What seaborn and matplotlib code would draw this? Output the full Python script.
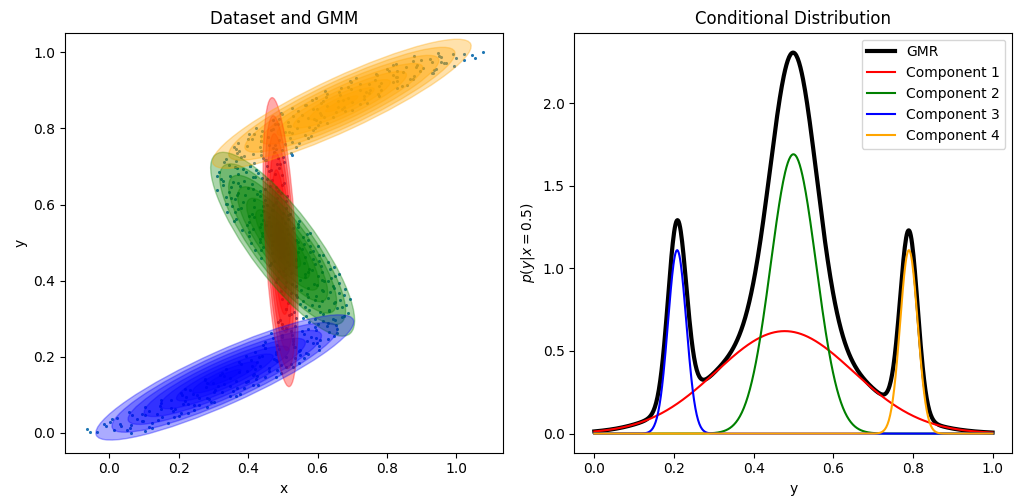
import numpy as np
import pandas as pd
import matplotlib
matplotlib.use("Agg")
import matplotlib.pyplot as plt
import seaborn as sns
from matplotlib.patches import Ellipse

# ---------------- data ----------------
# scatter samples (left panel), first batch
sample_y = [
    0.0000, 0.0025, 0.0050, 0.0075, 0.0100, 0.0125, 0.0150, 0.0175, 0.0200, 0.0225,
    0.0250, 0.0275, 0.0300, 0.0325, 0.0350, 0.0375, 0.0400, 0.0425, 0.0450, 0.0475,
    0.0500, 0.0525, 0.0550, 0.0575, 0.0600, 0.0625, 0.0650, 0.0675, 0.0700, 0.0725,
    0.0750, 0.0775, 0.0800, 0.0825, 0.0850, 0.0875, 0.0900, 0.0925, 0.0950, 0.0975,
    0.1000, 0.1025, 0.1050, 0.1075, 0.1100, 0.1125, 0.1150, 0.1175, 0.1200, 0.1225,
    0.1250, 0.1275, 0.1300, 0.1325, 0.1350, 0.1375, 0.1400, 0.1425, 0.1450, 0.1475,
    0.1500, 0.1525, 0.1550, 0.1575, 0.1600, 0.1625, 0.1650, 0.1675, 0.1700, 0.1725,
    0.1750, 0.1775, 0.1800, 0.1825, 0.1850, 0.1875, 0.1900, 0.1925, 0.1950, 0.1975,
    0.2000, 0.2025, 0.2050, 0.2075, 0.2100, 0.2125, 0.2150, 0.2175, 0.2200, 0.2225,
    0.2250, 0.2275, 0.2300, 0.2325, 0.2350, 0.2375, 0.2400, 0.2425, 0.2450, 0.2475,
    0.2500, 0.2525, 0.2550, 0.2575, 0.2600, 0.2625, 0.2650, 0.2675, 0.2700, 0.2725,
    0.2750, 0.2775, 0.2800, 0.2825, 0.2850, 0.2875, 0.2900, 0.2925, 0.2950, 0.2975,
    0.3000, 0.3025, 0.3050, 0.3075, 0.3100, 0.3125, 0.3150, 0.3175, 0.3200, 0.3225,
    0.3250, 0.3275, 0.3300, 0.3325, 0.3350, 0.3375, 0.3400, 0.3425, 0.3450, 0.3475,
    0.3500, 0.3525, 0.3550, 0.3575, 0.3600, 0.3625, 0.3650, 0.3675, 0.3700, 0.3725,
    0.3750, 0.3775, 0.3800, 0.3825, 0.3850, 0.3875, 0.3900, 0.3925, 0.3950, 0.3975,
    0.4000, 0.4025, 0.4050, 0.4075, 0.4100, 0.4125, 0.4150, 0.4175, 0.4200, 0.4225,
    0.4250, 0.4275, 0.4300, 0.4325, 0.4350, 0.4375, 0.4400, 0.4425, 0.4450, 0.4475,
    0.4500, 0.4525, 0.4550, 0.4575, 0.4600, 0.4625, 0.4650, 0.4675, 0.4700, 0.4725,
    0.4750, 0.4775, 0.4800, 0.4825, 0.4850, 0.4875, 0.4900, 0.4925, 0.4950, 0.4975,
    0.5000, 0.5025, 0.5050, 0.5075, 0.5100, 0.5125, 0.5150, 0.5175, 0.5200, 0.5225,
    0.5250, 0.5275, 0.5300, 0.5325, 0.5350, 0.5375, 0.5400, 0.5425, 0.5450, 0.5475,
    0.5500, 0.5525, 0.5550, 0.5575, 0.5600, 0.5625, 0.5650, 0.5675, 0.5700, 0.5725,
    0.5750, 0.5775, 0.5800, 0.5825, 0.5850, 0.5875, 0.5900, 0.5925, 0.5950, 0.5975,
    0.6000, 0.6025, 0.6050, 0.6075, 0.6100, 0.6125, 0.6150, 0.6175, 0.6200, 0.6225,
    0.6250, 0.6275, 0.6300, 0.6325, 0.6350, 0.6375, 0.6400, 0.6425, 0.6450, 0.6475,
    0.6500, 0.6525, 0.6550, 0.6575, 0.6600, 0.6625, 0.6650, 0.6675, 0.6700, 0.6725,
    0.6750, 0.6775, 0.6800, 0.6825, 0.6850, 0.6875, 0.6900, 0.6925, 0.6950, 0.6975,
    0.7000, 0.7025, 0.7050, 0.7075, 0.7100, 0.7125, 0.7150, 0.7175, 0.7200, 0.7225,
    0.7250, 0.7275, 0.7300, 0.7325, 0.7350, 0.7375, 0.7400, 0.7425, 0.7450, 0.7475,
    0.7500, 0.7525, 0.7550, 0.7575, 0.7600, 0.7625, 0.7650, 0.7675, 0.7700, 0.7725,
    0.7750, 0.7775, 0.7800, 0.7825, 0.7850, 0.7875, 0.7900, 0.7925, 0.7950, 0.7975,
    0.8000, 0.8025, 0.8050, 0.8075, 0.8100, 0.8125, 0.8150, 0.8175, 0.8200, 0.8225,
    0.8250, 0.8275, 0.8300, 0.8325, 0.8350, 0.8375, 0.8400, 0.8425, 0.8450, 0.8475,
    0.8500, 0.8525, 0.8550, 0.8575, 0.8600, 0.8625, 0.8650, 0.8675, 0.8700, 0.8725,
    0.8750, 0.8775, 0.8800, 0.8825, 0.8850, 0.8875, 0.8900, 0.8925, 0.8950, 0.8975,
    0.9000, 0.9025, 0.9050, 0.9075, 0.9100, 0.9125, 0.9150, 0.9175, 0.9200, 0.9225,
    0.9250, 0.9275, 0.9300, 0.9325, 0.9350, 0.9375, 0.9400, 0.9425, 0.9450, 0.9475,
    0.9500, 0.9525, 0.9550, 0.9575, 0.9600, 0.9625, 0.9650, 0.9675, 0.9700, 0.9725,
    0.9750, 0.9775, 0.9800, 0.9825, 0.9850, 0.9875, 0.9900, 0.9925, 0.9950, 0.9975,
    1.0000,
]
sample_x = [
    0.063, -0.034, 0.102, 0.015, -0.063, 0.061, 0.114, -0.008, 0.062, 0.032,
    0.169, 0.003, 0.098, 0.142, 0.081, 0.022, 0.151, 0.202, 0.065, 0.138,
    0.096, 0.208, 0.058, 0.185, 0.244, 0.149, 0.178, 0.282, 0.145, 0.244,
    0.226, 0.148, 0.292, 0.217, 0.150, 0.288, 0.259, 0.220, 0.347, 0.209,
    0.252, 0.378, 0.208, 0.325, 0.356, 0.304, 0.217, 0.388, 0.280, 0.349,
    0.414, 0.331, 0.283, 0.395, 0.366, 0.277, 0.423, 0.347, 0.481, 0.330,
    0.427, 0.320, 0.416, 0.494, 0.373, 0.397, 0.484, 0.335, 0.460, 0.510,
    0.433, 0.495, 0.379, 0.546, 0.425, 0.482, 0.409, 0.476, 0.561, 0.431,
    0.508, 0.394, 0.550, 0.479, 0.567, 0.421, 0.546, 0.605, 0.489, 0.450,
    0.531, 0.604, 0.484, 0.529, 0.587, 0.450, 0.571, 0.607, 0.530, 0.473,
    0.595, 0.497, 0.647, 0.526, 0.560, 0.465, 0.634, 0.555, 0.595, 0.657,
    0.508, 0.592, 0.536, 0.652, 0.498, 0.630, 0.576, 0.617, 0.492, 0.644,
    0.592, 0.538, 0.669, 0.566, 0.518, 0.616, 0.688, 0.532, 0.633, 0.576,
    0.508, 0.657, 0.564, 0.604, 0.682, 0.550, 0.516, 0.649, 0.613, 0.592,
    0.666, 0.498, 0.629, 0.540, 0.596, 0.676, 0.570, 0.523, 0.635, 0.617,
    0.551, 0.679, 0.572, 0.505, 0.645, 0.598, 0.527, 0.661, 0.479, 0.618,
    0.630, 0.550, 0.484, 0.640, 0.563, 0.602, 0.506, 0.662, 0.523, 0.572,
    0.488, 0.584, 0.636, 0.507, 0.537, 0.611, 0.464, 0.592, 0.561, 0.511,
    0.630, 0.476, 0.539, 0.587, 0.437, 0.565, 0.503, 0.603, 0.516, 0.469,
    0.544, 0.588, 0.436, 0.554, 0.509, 0.442, 0.601, 0.469, 0.561, 0.513,
    0.407, 0.545, 0.473, 0.573, 0.433, 0.495, 0.557, 0.439, 0.467, 0.515,
    0.577, 0.402, 0.492, 0.383, 0.513, 0.529, 0.433, 0.466, 0.397, 0.544,
    0.438, 0.482, 0.402, 0.546, 0.443, 0.365, 0.498, 0.460, 0.402, 0.514,
    0.411, 0.501, 0.340, 0.443, 0.470, 0.371, 0.508, 0.416, 0.355, 0.473,
    0.454, 0.335, 0.479, 0.385, 0.510, 0.416, 0.363, 0.483, 0.335, 0.434,
    0.368, 0.425, 0.495, 0.345, 0.435, 0.310, 0.450, 0.399, 0.480, 0.378,
    0.463, 0.329, 0.411, 0.504, 0.358, 0.389, 0.470, 0.322, 0.440, 0.415,
    0.347, 0.497, 0.372, 0.430, 0.316, 0.460, 0.423, 0.386, 0.489, 0.362,
    0.455, 0.405, 0.345, 0.484, 0.416, 0.504, 0.365, 0.453, 0.335, 0.442,
    0.500, 0.388, 0.527, 0.414, 0.368, 0.475, 0.436, 0.497, 0.364, 0.472,
    0.434, 0.539, 0.396, 0.459, 0.506, 0.371, 0.526, 0.436, 0.489, 0.400,
    0.572, 0.458, 0.437, 0.563, 0.404, 0.527, 0.506, 0.440, 0.588, 0.472,
    0.541, 0.422, 0.574, 0.514, 0.600, 0.485, 0.628, 0.515, 0.543, 0.595,
    0.488, 0.572, 0.644, 0.528, 0.611, 0.498, 0.606, 0.654, 0.543, 0.700,
    0.586, 0.670, 0.527, 0.659, 0.628, 0.568, 0.722, 0.610, 0.698, 0.660,
    0.584, 0.734, 0.689, 0.625, 0.777, 0.666, 0.626, 0.749, 0.739, 0.622,
    0.783, 0.722, 0.695, 0.828, 0.687, 0.778, 0.858, 0.722, 0.782, 0.696,
    0.828, 0.765, 0.875, 0.710, 0.827, 0.878, 0.816, 0.768, 0.930, 0.846,
    0.805, 0.896, 0.935, 0.801, 0.903, 0.854, 0.992, 0.887, 0.827, 0.971,
    0.930, 0.875, 1.022, 0.925, 1.000, 0.954, 0.877, 1.046, 1.021, 0.948,
    1.075,
]
# scatter samples, second batch
sample_y2 = [
    0.00125, 0.00625, 0.01125, 0.01625, 0.02125, 0.02625, 0.03125, 0.03625, 0.04125, 0.04625,
    0.05125, 0.05625, 0.06125, 0.06625, 0.07125, 0.07625, 0.08125, 0.08625, 0.09125, 0.09625,
    0.10125, 0.10625, 0.11125, 0.11625, 0.12125, 0.12625, 0.13125, 0.13625, 0.14125, 0.14625,
    0.15125, 0.15625, 0.16125, 0.16625, 0.17125, 0.17625, 0.18125, 0.18625, 0.19125, 0.19625,
    0.20125, 0.20625, 0.21125, 0.21625, 0.22125, 0.22625, 0.23125, 0.23625, 0.24125, 0.24625,
    0.25125, 0.25625, 0.26125, 0.26625, 0.27125, 0.27625, 0.28125, 0.28625, 0.29125, 0.29625,
    0.30125, 0.30625, 0.31125, 0.31625, 0.32125, 0.32625, 0.33125, 0.33625, 0.34125, 0.34625,
    0.35125, 0.35625, 0.36125, 0.36625, 0.37125, 0.37625, 0.38125, 0.38625, 0.39125, 0.39625,
    0.40125, 0.40625, 0.41125, 0.41625, 0.42125, 0.42625, 0.43125, 0.43625, 0.44125, 0.44625,
    0.45125, 0.45625, 0.46125, 0.46625, 0.47125, 0.47625, 0.48125, 0.48625, 0.49125, 0.49625,
    0.50125, 0.50625, 0.51125, 0.51625, 0.52125, 0.52625, 0.53125, 0.53625, 0.54125, 0.54625,
    0.55125, 0.55625, 0.56125, 0.56625, 0.57125, 0.57625, 0.58125, 0.58625, 0.59125, 0.59625,
    0.60125, 0.60625, 0.61125, 0.61625, 0.62125, 0.62625, 0.63125, 0.63625, 0.64125, 0.64625,
    0.65125, 0.65625, 0.66125, 0.66625, 0.67125, 0.67625, 0.68125, 0.68625, 0.69125, 0.69625,
    0.70125, 0.70625, 0.71125, 0.71625, 0.72125, 0.72625, 0.73125, 0.73625, 0.74125, 0.74625,
    0.75125, 0.75625, 0.76125, 0.76625, 0.77125, 0.77625, 0.78125, 0.78625, 0.79125, 0.79625,
    0.80125, 0.80625, 0.81125, 0.81625, 0.82125, 0.82625, 0.83125, 0.83625, 0.84125, 0.84625,
    0.85125, 0.85625, 0.86125, 0.86625, 0.87125, 0.87625, 0.88125, 0.88625, 0.89125, 0.89625,
    0.90125, 0.90625, 0.91125, 0.91625, 0.92125, 0.92625, 0.93125, 0.93625, 0.94125, 0.94625,
    0.95125, 0.95625, 0.96125, 0.96625, 0.97125, 0.97625, 0.98125, 0.98625, 0.99125, 0.99625,
]
sample_x2 = [
    -0.054, 0.051, 0.123, 0.035, -0.016, 0.122, 0.095, 0.009, 0.186, 0.103,
    0.228, 0.116, 0.191, 0.102, 0.260, 0.212, 0.302, 0.178, 0.282, 0.364,
    0.242, 0.303, 0.233, 0.368, 0.312, 0.429, 0.300, 0.399, 0.275, 0.449,
    0.415, 0.325, 0.461, 0.420, 0.528, 0.411, 0.525, 0.373, 0.480, 0.535,
    0.440, 0.573, 0.480, 0.549, 0.448, 0.536, 0.442, 0.597, 0.530, 0.631,
    0.581, 0.497, 0.657, 0.524, 0.573, 0.498, 0.626, 0.602, 0.485, 0.651,
    0.559, 0.675, 0.524, 0.606, 0.634, 0.509, 0.669, 0.585, 0.648, 0.557,
    0.692, 0.573, 0.538, 0.662, 0.496, 0.613, 0.646, 0.538, 0.589, 0.508,
    0.613, 0.485, 0.651, 0.565, 0.612, 0.500, 0.576, 0.647, 0.519, 0.467,
    0.605, 0.539, 0.491, 0.615, 0.500, 0.578, 0.420, 0.546, 0.578, 0.489,
    0.433, 0.539, 0.502, 0.404, 0.571, 0.440, 0.498, 0.414, 0.543, 0.451,
    0.507, 0.360, 0.515, 0.417, 0.436, 0.521, 0.363, 0.472, 0.381, 0.444,
    0.338, 0.479, 0.449, 0.352, 0.511, 0.392, 0.371, 0.485, 0.415, 0.351,
    0.499, 0.372, 0.329, 0.454, 0.421, 0.310, 0.478, 0.393, 0.465, 0.367,
    0.405, 0.491, 0.331, 0.450, 0.486, 0.380, 0.436, 0.525, 0.373, 0.481,
    0.360, 0.478, 0.546, 0.438, 0.412, 0.521, 0.582, 0.418, 0.517, 0.467,
    0.594, 0.521, 0.477, 0.607, 0.471, 0.589, 0.619, 0.556, 0.495, 0.680,
    0.597, 0.675, 0.565, 0.741, 0.615, 0.673, 0.595, 0.733, 0.773, 0.663,
    0.751, 0.667, 0.842, 0.748, 0.817, 0.693, 0.865, 0.829, 0.772, 0.932,
    0.829, 0.942, 0.882, 0.816, 0.963, 0.954, 0.897, 1.053, 0.949, 0.989,
]

# GMM components (left panel ellipses: centre, outer semi-axes, orientation)
component_names = ["Component 1", "Component 2", "Component 3", "Component 4"]
component_colors = ["red", "green", "blue", "orange"]
gmm_mean_x = [0.4935, 0.4995, 0.333, 0.670]
gmm_mean_y = [0.501, 0.4955, 0.145, 0.865]
gmm_semi_major = [0.381, 0.305, 0.400, 0.403]
gmm_semi_minor = [0.044, 0.092, 0.071, 0.071]
gmm_angle_deg = [93.7, -50.3, 22.2, 22.9]

# conditional p(y | x=0.5) components (right panel): peak height, mean, std
cond_peaks = [0.62, 1.69, 1.11, 1.11]
cond_means = [0.478, 0.500, 0.208, 0.790]
cond_stds = [0.172, 0.057, 0.023, 0.022]

# ---------------- figure ----------------
fig, (ax1, ax2) = plt.subplots(1, 2, figsize=(10.16, 4.98), dpi=100)
fig.subplots_adjust(left=0.064, right=0.9965, bottom=0.091, top=0.9343, wspace=0.163)

points = pd.concat([pd.DataFrame({"x": sample_x, "y": sample_y}),
                    pd.DataFrame({"x": sample_x2, "y": sample_y2})],
                   ignore_index=True)
sns.scatterplot(data=points, x="x", y="y", ax=ax1, s=5, color="#1f77b4",
                linewidth=0, legend=False)

fractions = np.linspace(0.125, 1.0, 8)
for f in fractions:
    for i in range(len(component_colors)):
        ell = Ellipse(xy=(gmm_mean_x[i], gmm_mean_y[i]),
                      width=2 * f * gmm_semi_major[i],
                      height=2 * f * gmm_semi_minor[i],
                      angle=gmm_angle_deg[i])
        ell.set_alpha(0.33)
        ell.set_color(component_colors[i])
        ax1.add_artist(ell)

ax1.set_xlim(-0.127, 1.134)
ax1.set_ylim(-0.053, 1.052)
ax1.set_xticks([0.0, 0.2, 0.4, 0.6, 0.8, 1.0])
ax1.set_yticks([0.0, 0.2, 0.4, 0.6, 0.8, 1.0])
ax1.set_title("Dataset and GMM")
ax1.set_xlabel("x")
ax1.set_ylabel("y")

grid = np.linspace(0.0, 1.0, 600)
curves = [p * np.exp(-0.5 * ((grid - m) / s) ** 2)
          for p, m, s in zip(cond_peaks, cond_means, cond_stds)]
gmr_curve = np.sum(curves, axis=0)

sns.lineplot(x=grid, y=gmr_curve, ax=ax2, color="black", linewidth=3, label="GMR")
for name, col, curve in zip(component_names, component_colors, curves):
    sns.lineplot(x=grid, y=curve, ax=ax2, color=col, linewidth=1.5, label=name)

ax2.set_xlim(-0.05, 1.05)
ax2.set_ylim(-0.1155, 2.4255)
ax2.set_xticks([0.0, 0.2, 0.4, 0.6, 0.8, 1.0])
ax2.set_yticks([0.0, 0.5, 1.0, 1.5, 2.0])
ax2.set_title("Conditional Distribution")
ax2.set_xlabel("y")
ax2.set_ylabel("$p(y|x=0.5)$")
ax2.legend(loc="upper right")

fig.savefig("out.png", dpi=100)
